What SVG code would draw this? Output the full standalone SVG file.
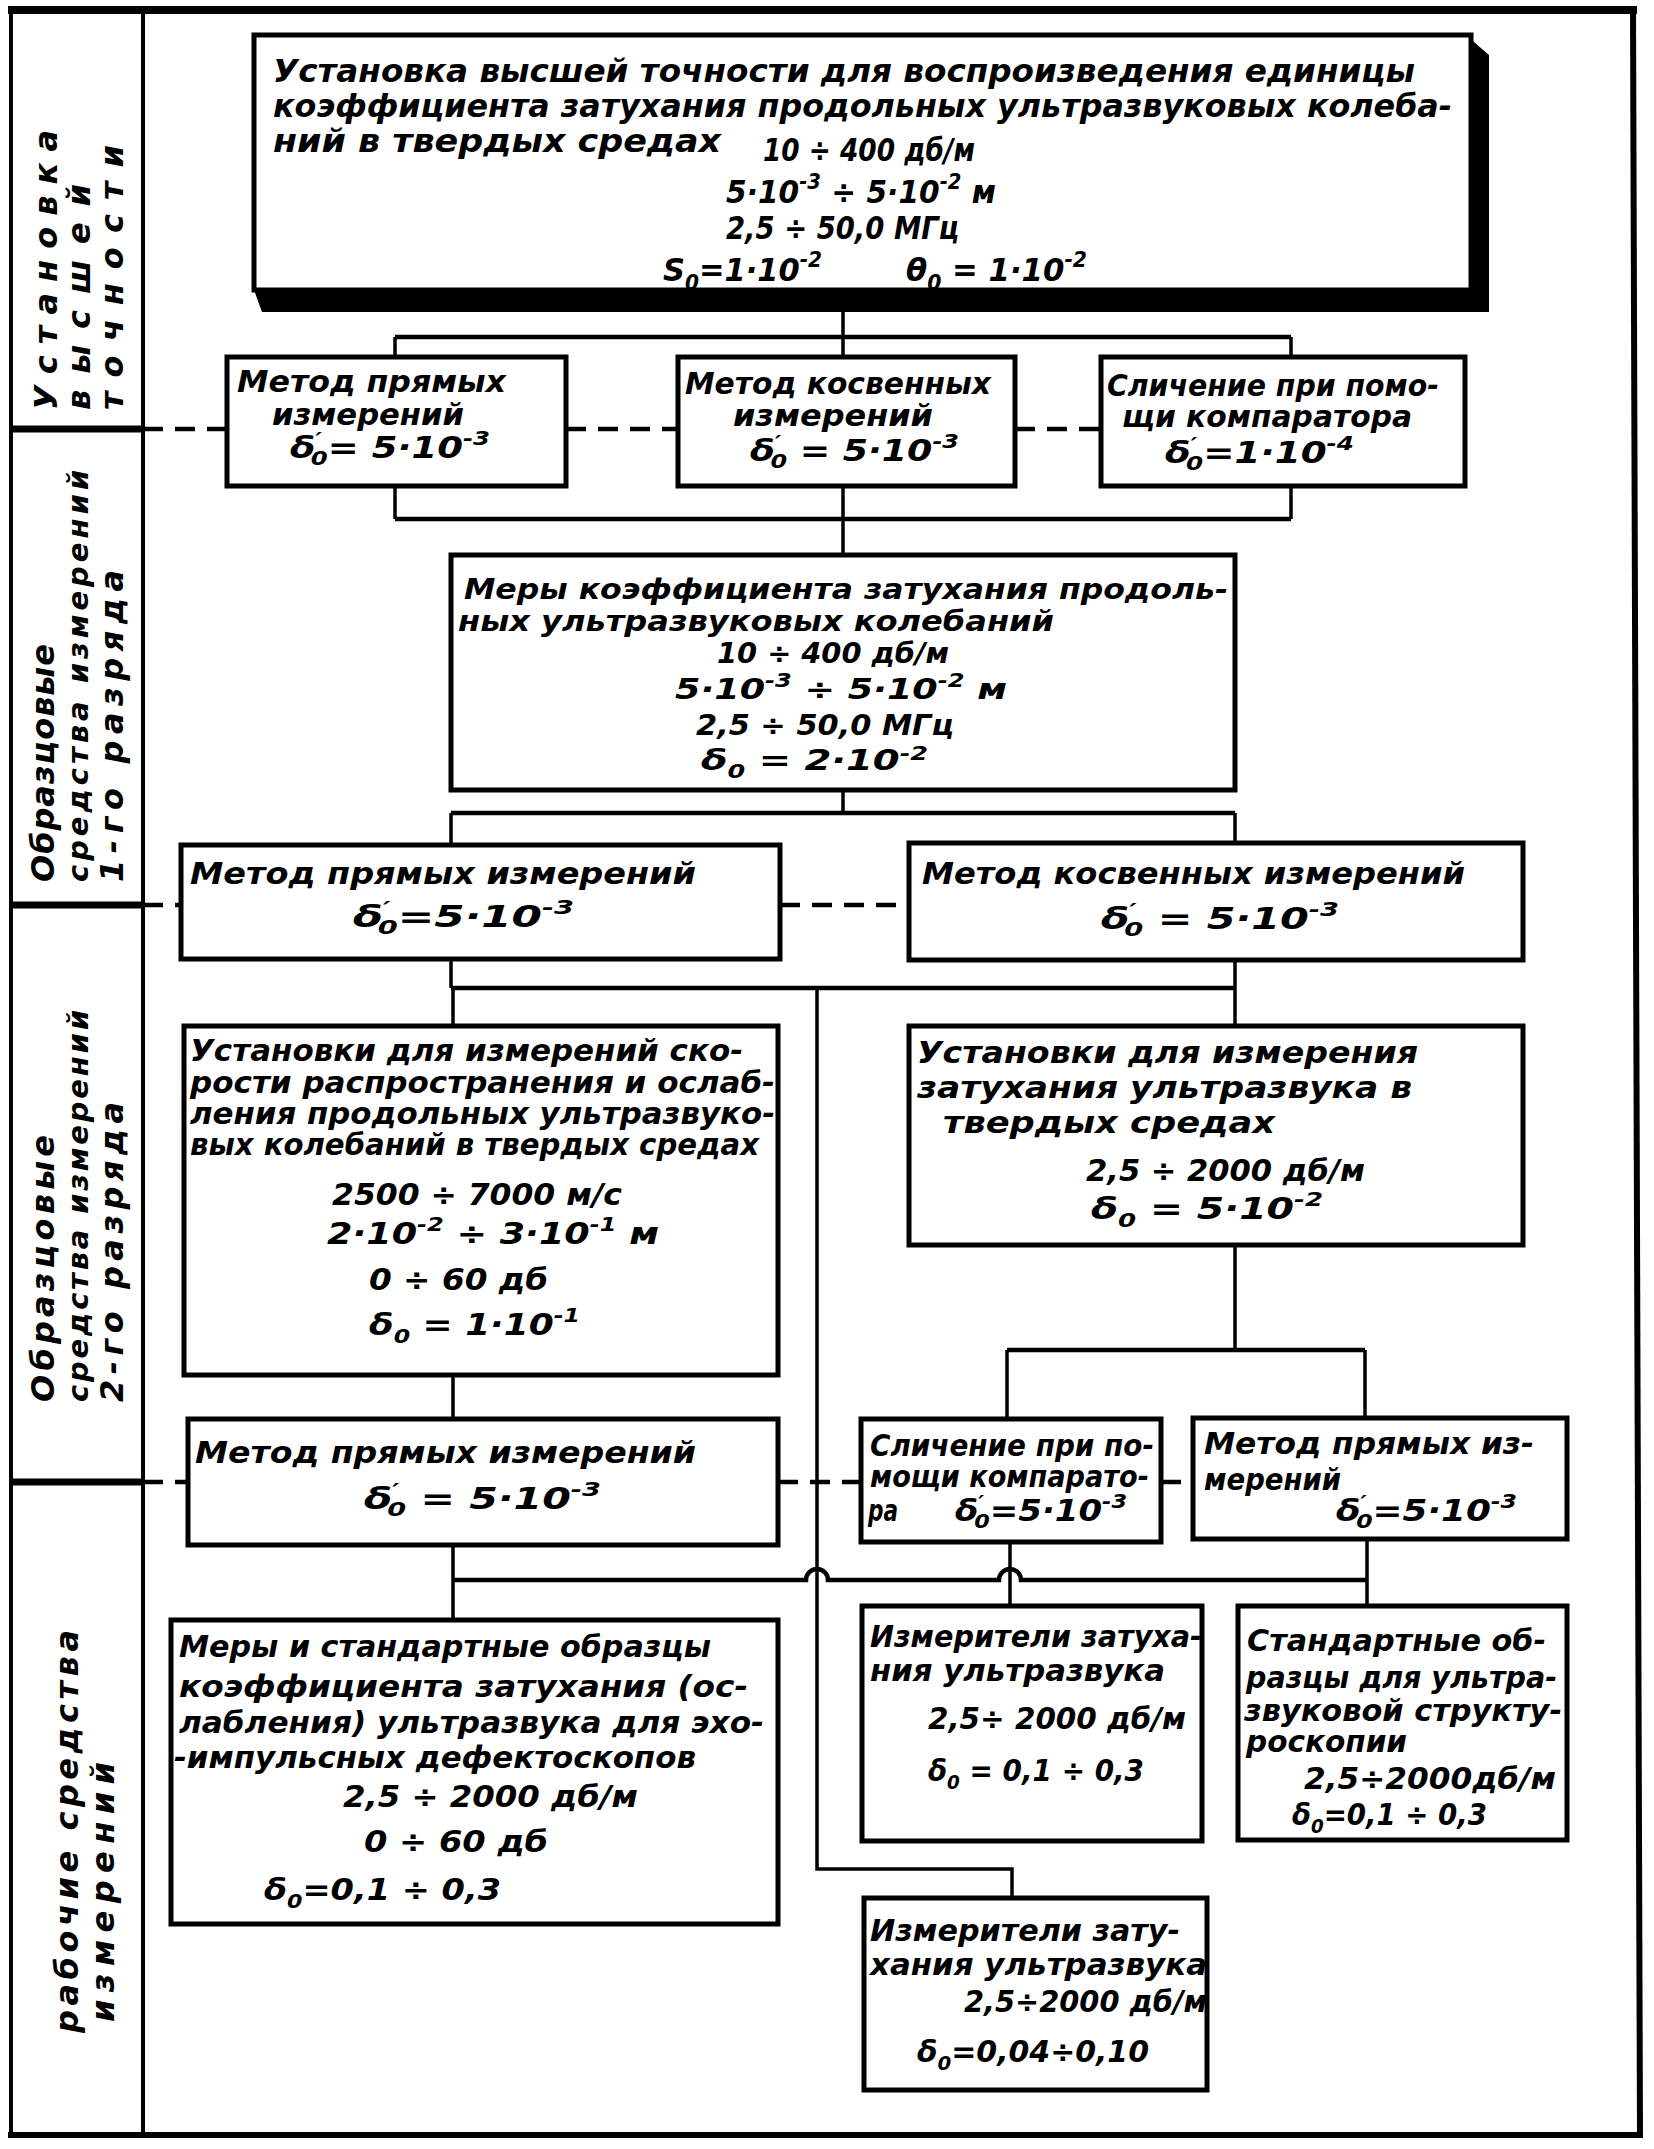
<svg xmlns="http://www.w3.org/2000/svg" width="1654" height="2149" viewBox="0 0 1654 2149">
<style>
.box{fill:#fff;stroke:#000;stroke-width:5}
.ln{fill:none;stroke:#000;stroke-width:3.5}
.bus{fill:none;stroke:#000;stroke-width:4.5}
.dash{fill:none;stroke:#000;stroke-width:4.5;stroke-dasharray:20 12}
.t{font-family:"DejaVu Sans Condensed","DejaVu Sans",sans-serif;font-style:oblique;font-weight:bold;font-size:30px;fill:#000}
.ta{font-size:32px}
.tc{font-size:29px}
.s{font-size:66%}
.lab{font-family:"DejaVu Sans","Liberation Sans",sans-serif;font-style:oblique;font-weight:bold;font-size:32px;fill:#000}
.lab2{font-size:29px}
</style>
<rect x="0" y="0" width="1654" height="2149" fill="#fff"/>
<g id="frame">
<line x1="8" y1="10" x2="1637" y2="10" stroke="#000" stroke-width="8"/>
<line x1="11" y1="8" x2="11" y2="2138" stroke="#000" stroke-width="4"/>
<line x1="143" y1="10" x2="143" y2="2138" stroke="#000" stroke-width="4"/>
<line x1="1633" y1="8" x2="1640" y2="2138" stroke="#000" stroke-width="6"/>
<line x1="8" y1="2135" x2="1642" y2="2135" stroke="#000" stroke-width="6"/>
<line x1="11" y1="429" x2="143" y2="429" stroke="#000" stroke-width="7"/>
<line x1="11" y1="905" x2="143" y2="905" stroke="#000" stroke-width="7"/>
<line x1="11" y1="1482" x2="143" y2="1482" stroke="#000" stroke-width="7"/>
</g>
<g id="labels">
<text class="lab" transform="translate(57 410) rotate(-90)" textLength="280" lengthAdjust="spacing">Установка</text>
<text class="lab" transform="translate(90 410) rotate(-90)" textLength="226" lengthAdjust="spacing">высшей</text>
<text class="lab" transform="translate(123 410) rotate(-90)" textLength="265" lengthAdjust="spacing">точности</text>
<text class="lab" transform="translate(54 882) rotate(-90)" textLength="238" lengthAdjust="spacing">Образцовые</text>
<text class="lab lab2" transform="translate(88 882) rotate(-90)" textLength="412" lengthAdjust="spacing">средства измерений</text>
<text class="lab" transform="translate(123 882) rotate(-90)" textLength="312" lengthAdjust="spacing">1-го разряда</text>
<text class="lab" transform="translate(54 1402) rotate(-90)" textLength="267" lengthAdjust="spacing">Образцовые</text>
<text class="lab lab2" transform="translate(88 1402) rotate(-90)" textLength="392" lengthAdjust="spacing">средства измерений</text>
<text class="lab" transform="translate(123 1402) rotate(-90)" textLength="300" lengthAdjust="spacing">2-го разряда</text>
<text class="lab" transform="translate(78 2033) rotate(-90)" textLength="403" lengthAdjust="spacing">рабочие  средства</text>
<text class="lab" transform="translate(114 2022) rotate(-90)" textLength="260" lengthAdjust="spacing">измерений</text>
</g>
<g id="connectors">
<path class="ln" d="M843 312V337M395 337V357M843 337V357M1291 337V357"/>
<path class="bus" d="M395 337H1291"/>
<path class="ln" d="M395 486V519M843 486V519M1291 486V519M843 519V555"/>
<path class="bus" d="M395 519H1291"/>
<path class="ln" d="M843 790V813M451 813V845M1235 813V843"/>
<path class="bus" d="M451 813H1235"/>
<path class="ln" d="M451 959V988M1235 960V988M453 988V1026M1235 988V1026"/>
<path class="bus" d="M451 988H1235"/>
<path class="ln" d="M817 988V1869H1012V1898"/>
<path class="ln" d="M453 1375V1419M1235 1245V1350M1007 1350V1419M1365 1350V1418"/>
<path class="bus" d="M1007 1350H1365"/>
<path class="ln" d="M453 1545V1620M1010 1542V1606M1367 1539V1606"/>
<path class="bus" d="M453 1580H806A11 11 0 0 1 828 1580H999A11 11 0 0 1 1021 1580H1367"/>
<path class="dash" d="M143 429H227M566 429H678M1015 429H1101"/>
<path class="dash" d="M143 905H181M780 905H909"/>
<path class="dash" d="M143 1482H188M778 1482H861M1161 1482H1193"/>
</g>
<g id="nodeA">
<polygon points="1466,35 1489,55 1489,312 262,312 254,290 1466,290" fill="#000"/>
<rect class="box" x="254" y="35" width="1217" height="255"/>
<text class="t ta" x="273" y="82" textLength="1142" lengthAdjust="spacingAndGlyphs">Установка высшей точности для воспроизведения единицы</text>
<text class="t ta" x="273" y="117" textLength="1179" lengthAdjust="spacingAndGlyphs">коэффициента затухания продольных ультразвуковых колеба-</text>
<text class="t ta" x="273" y="152" textLength="448" lengthAdjust="spacingAndGlyphs">ний  в  твердых  средах</text>
<text class="t ta" x="763" y="161" textLength="212" lengthAdjust="spacingAndGlyphs">10 ÷ 400 дб/м</text>
<text class="t ta" x="726" y="203" textLength="270" lengthAdjust="spacingAndGlyphs">5·10<tspan class="s" dy="-14">-3</tspan><tspan dy="14"> ÷ 5·10</tspan><tspan class="s" dy="-14">-2</tspan><tspan dy="14"> м</tspan></text>
<text class="t ta" x="726" y="239" textLength="233" lengthAdjust="spacingAndGlyphs">2,5 ÷ 50,0 МГц</text>
<text class="t ta" x="663" y="281" textLength="159" lengthAdjust="spacingAndGlyphs">S<tspan class="s" dy="9">0</tspan><tspan dy="-9">=1·10</tspan><tspan class="s" dy="-14">-2</tspan></text>
<text class="t ta" x="906" y="281" textLength="181" lengthAdjust="spacingAndGlyphs">θ<tspan class="s" dy="9">0</tspan><tspan dy="-9"> = 1·10</tspan><tspan class="s" dy="-14">-2</tspan></text>
</g>
<g id="nodeB1">
<rect class="box" x="227" y="357" width="339" height="129"/>
<text class="t" x="237" y="392" textLength="269" lengthAdjust="spacingAndGlyphs">Метод  прямых</text>
<text class="t" x="272" y="425" textLength="192" lengthAdjust="spacingAndGlyphs">измерений</text>
<text class="t" x="290" y="458" textLength="200" lengthAdjust="spacingAndGlyphs">δ<tspan class="s" dy="-12">′</tspan><tspan class="s" dx="-8" dy="19">0</tspan><tspan dy="-7">= 5·10</tspan><tspan class="s" dy="-13">-3</tspan></text>
</g>
<g id="nodeB2">
<rect class="box" x="678" y="357" width="337" height="129"/>
<text class="t" x="685" y="394" textLength="306" lengthAdjust="spacingAndGlyphs">Метод косвенных</text>
<text class="t" x="733" y="426" textLength="200" lengthAdjust="spacingAndGlyphs">измерений</text>
<text class="t" x="750" y="461" textLength="209" lengthAdjust="spacingAndGlyphs">δ<tspan class="s" dy="-12">′</tspan><tspan class="s" dx="-8" dy="19">0</tspan><tspan dy="-7"> = 5·10</tspan><tspan class="s" dy="-13">-3</tspan></text>
</g>
<g id="nodeB3">
<rect class="box" x="1101" y="357" width="364" height="129"/>
<text class="t" x="1107" y="396" textLength="332" lengthAdjust="spacingAndGlyphs">Сличение при помо-</text>
<text class="t" x="1122" y="427" textLength="290" lengthAdjust="spacingAndGlyphs">щи компаратора</text>
<text class="t" x="1165" y="463" textLength="189" lengthAdjust="spacingAndGlyphs">δ<tspan class="s" dy="-12">′</tspan><tspan class="s" dx="-8" dy="19">0</tspan><tspan dy="-7">=1·10</tspan><tspan class="s" dy="-13">-4</tspan></text>
</g>
<g id="nodeC">
<rect class="box" x="451" y="555" width="784" height="235"/>
<text class="t tc" x="464" y="599" textLength="764" lengthAdjust="spacingAndGlyphs">Меры коэффициента затухания продоль-</text>
<text class="t tc" x="458" y="631" textLength="596" lengthAdjust="spacingAndGlyphs">ных ультразвуковых  колебаний</text>
<text class="t tc" x="717" y="663" textLength="232" lengthAdjust="spacingAndGlyphs">10 ÷ 400 дб/м</text>
<text class="t tc" x="675" y="699" textLength="332" lengthAdjust="spacingAndGlyphs">5·10<tspan class="s" dy="-12">-3</tspan><tspan dy="12"> ÷ 5·10</tspan><tspan class="s" dy="-12">-2</tspan><tspan dy="12"> м</tspan></text>
<text class="t tc" x="696" y="735" textLength="258" lengthAdjust="spacingAndGlyphs">2,5 ÷ 50,0 МГц</text>
<text class="t tc" x="701" y="770" textLength="227" lengthAdjust="spacingAndGlyphs">δ<tspan class="s" dy="8">0</tspan><tspan dy="-8"> = 2·10</tspan><tspan class="s" dy="-10">-2</tspan></text>
</g>
<g id="nodeD1">
<rect class="box" x="181" y="845" width="599" height="114"/>
<text class="t" x="190" y="884" textLength="506" lengthAdjust="spacingAndGlyphs">Метод  прямых  измерений</text>
<text class="t" x="353" y="927" textLength="221" lengthAdjust="spacingAndGlyphs">δ<tspan class="s" dy="-12">′</tspan><tspan class="s" dx="-8" dy="19">0</tspan><tspan dy="-7">=5·10</tspan><tspan class="s" dy="-13">-3</tspan></text>
</g>
<g id="nodeD2">
<rect class="box" x="909" y="843" width="614" height="117"/>
<text class="t" x="922" y="884" textLength="543" lengthAdjust="spacingAndGlyphs">Метод косвенных измерений</text>
<text class="t" x="1101" y="929" textLength="238" lengthAdjust="spacingAndGlyphs">δ<tspan class="s" dy="-12">′</tspan><tspan class="s" dx="-8" dy="19">0</tspan><tspan dy="-7"> = 5·10</tspan><tspan class="s" dy="-13">-3</tspan></text>
</g>
<g id="nodeE1">
<rect class="box" x="184" y="1026" width="594" height="349"/>
<text class="t" x="190" y="1061" textLength="553" lengthAdjust="spacingAndGlyphs">Установки для измерений ско-</text>
<text class="t" x="190" y="1093" textLength="585" lengthAdjust="spacingAndGlyphs">рости распространения и ослаб-</text>
<text class="t" x="190" y="1124" textLength="585" lengthAdjust="spacingAndGlyphs">ления продольных ультразвуко-</text>
<text class="t" x="190" y="1155" textLength="569" lengthAdjust="spacingAndGlyphs">вых колебаний в твердых средах</text>
<text class="t" x="332" y="1205" textLength="290" lengthAdjust="spacingAndGlyphs">2500 ÷ 7000 м/с</text>
<text class="t" x="327" y="1244" textLength="332" lengthAdjust="spacingAndGlyphs">2·10<tspan class="s" dy="-13">-2</tspan><tspan dy="13"> ÷ 3·10</tspan><tspan class="s" dy="-13">-1</tspan><tspan dy="13"> м</tspan></text>
<text class="t" x="369" y="1290" textLength="179" lengthAdjust="spacingAndGlyphs">0 ÷ 60 дб</text>
<text class="t" x="369" y="1335" textLength="211" lengthAdjust="spacingAndGlyphs">δ<tspan class="s" dy="8">0</tspan><tspan dy="-8"> = 1·10</tspan><tspan class="s" dy="-13">-1</tspan></text>
</g>
<g id="nodeE2">
<rect class="box" x="909" y="1026" width="614" height="219"/>
<text class="t" x="917" y="1063" textLength="501" lengthAdjust="spacingAndGlyphs">Установки для измерения</text>
<text class="t" x="917" y="1098" textLength="495" lengthAdjust="spacingAndGlyphs">затухания ультразвука в</text>
<text class="t" x="943" y="1133" textLength="332" lengthAdjust="spacingAndGlyphs">твердых   средах</text>
<text class="t" x="1086" y="1181" textLength="279" lengthAdjust="spacingAndGlyphs">2,5 ÷ 2000 дб/м</text>
<text class="t" x="1091" y="1219" textLength="232" lengthAdjust="spacingAndGlyphs">δ<tspan class="s" dy="8">0</tspan><tspan dy="-8"> = 5·10</tspan><tspan class="s" dy="-13">-2</tspan></text>
</g>
<g id="nodeF1">
<rect class="box" x="188" y="1419" width="590" height="126"/>
<text class="t" x="195" y="1463" textLength="501" lengthAdjust="spacingAndGlyphs">Метод прямых  измерений</text>
<text class="t" x="364" y="1509" textLength="237" lengthAdjust="spacingAndGlyphs">δ<tspan class="s" dy="-12">′</tspan><tspan class="s" dx="-8" dy="19">0</tspan><tspan dy="-7"> = 5·10</tspan><tspan class="s" dy="-13">-3</tspan></text>
</g>
<g id="nodeF2">
<rect class="box" x="861" y="1419" width="300" height="123"/>
<text class="t" x="870" y="1456" textLength="284" lengthAdjust="spacingAndGlyphs">Сличение при по-</text>
<text class="t" x="870" y="1487" textLength="279" lengthAdjust="spacingAndGlyphs">мощи компарато-</text>
<text class="t" x="868" y="1521" textLength="30" lengthAdjust="spacingAndGlyphs">ра</text>
<text class="t" x="955" y="1521" textLength="172" lengthAdjust="spacingAndGlyphs">δ<tspan class="s" dy="-12">′</tspan><tspan class="s" dx="-8" dy="19">0</tspan><tspan dy="-7">=5·10</tspan><tspan class="s" dy="-13">-3</tspan></text>
</g>
<g id="nodeF3">
<rect class="box" x="1193" y="1418" width="374" height="121"/>
<text class="t" x="1204" y="1454" textLength="330" lengthAdjust="spacingAndGlyphs">Метод  прямых из-</text>
<text class="t" x="1204" y="1490" textLength="137" lengthAdjust="spacingAndGlyphs">мерений</text>
<text class="t" x="1336" y="1521" textLength="181" lengthAdjust="spacingAndGlyphs">δ<tspan class="s" dy="-12">′</tspan><tspan class="s" dx="-8" dy="19">0</tspan><tspan dy="-7">=5·10</tspan><tspan class="s" dy="-13">-3</tspan></text>
</g>
<g id="nodeG1">
<rect class="box" x="171" y="1620" width="607" height="304"/>
<text class="t" x="179" y="1657" textLength="532" lengthAdjust="spacingAndGlyphs">Меры и стандартные образцы</text>
<text class="t" x="179" y="1697" textLength="569" lengthAdjust="spacingAndGlyphs">коэффициента затухания (ос-</text>
<text class="t" x="179" y="1733" textLength="585" lengthAdjust="spacingAndGlyphs">лабления) ультразвука для эхо-</text>
<text class="t" x="174" y="1768" textLength="522" lengthAdjust="spacingAndGlyphs">-импульсных дефектоскопов</text>
<text class="t" x="343" y="1807" textLength="295" lengthAdjust="spacingAndGlyphs">2,5 ÷ 2000 дб/м</text>
<text class="t" x="364" y="1852" textLength="184" lengthAdjust="spacingAndGlyphs">0 ÷ 60 дб</text>
<text class="t" x="264" y="1900" textLength="237" lengthAdjust="spacingAndGlyphs">δ<tspan class="s" dy="8">0</tspan><tspan dy="-8">=0,1 ÷ 0,3</tspan></text>
</g>
<g id="nodeG2">
<rect class="box" x="862" y="1606" width="340" height="235"/>
<text class="t" x="870" y="1647" textLength="332" lengthAdjust="spacingAndGlyphs">Измерители затуха-</text>
<text class="t" x="870" y="1681" textLength="295" lengthAdjust="spacingAndGlyphs">ния ультразвука</text>
<text class="t" x="928" y="1729" textLength="258" lengthAdjust="spacingAndGlyphs">2,5÷ 2000 дб/м</text>
<text class="t" x="928" y="1781" textLength="216" lengthAdjust="spacingAndGlyphs">δ<tspan class="s" dy="8">0</tspan><tspan dy="-8"> = 0,1 ÷ 0,3</tspan></text>
</g>
<g id="nodeG3">
<rect class="box" x="1238" y="1606" width="329" height="234"/>
<text class="t" x="1247" y="1651" textLength="299" lengthAdjust="spacingAndGlyphs">Стандартные об-</text>
<text class="t" x="1246" y="1688" textLength="311" lengthAdjust="spacingAndGlyphs">разцы для ультра-</text>
<text class="t" x="1244" y="1721" textLength="318" lengthAdjust="spacingAndGlyphs">звуковой структу-</text>
<text class="t" x="1246" y="1752" textLength="161" lengthAdjust="spacingAndGlyphs">роскопии</text>
<text class="t" x="1304" y="1789" textLength="252" lengthAdjust="spacingAndGlyphs">2,5÷2000дб/м</text>
<text class="t" x="1292" y="1825" textLength="195" lengthAdjust="spacingAndGlyphs">δ<tspan class="s" dy="8">0</tspan><tspan dy="-8">=0,1 ÷ 0,3</tspan></text>
</g>
<g id="nodeH">
<rect class="box" x="864" y="1898" width="343" height="192"/>
<text class="t" x="870" y="1941" textLength="310" lengthAdjust="spacingAndGlyphs">Измерители зату-</text>
<text class="t" x="870" y="1975" textLength="337" lengthAdjust="spacingAndGlyphs">хания ультразвука</text>
<text class="t" x="964" y="2012" textLength="243" lengthAdjust="spacingAndGlyphs">2,5÷2000 дб/м</text>
<text class="t" x="917" y="2062" textLength="232" lengthAdjust="spacingAndGlyphs">δ<tspan class="s" dy="8">0</tspan><tspan dy="-8">=0,04÷0,10</tspan></text>
</g>
</svg>
